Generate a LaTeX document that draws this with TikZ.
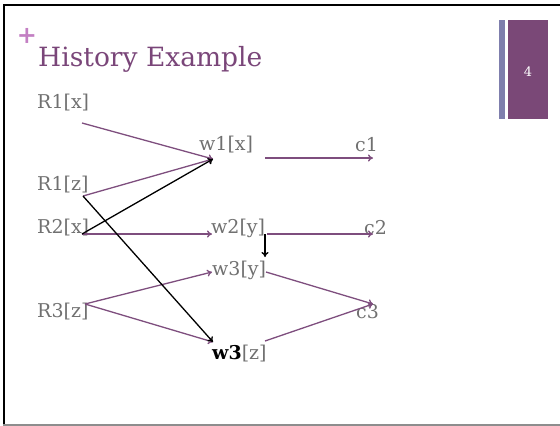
\documentclass[tikz,border=0pt]{standalone}
\usepackage{fontspec}
\setmainfont{DejaVu Serif}
\usetikzlibrary{arrows.meta}
\definecolor{ttl}{HTML}{7A4679}
\definecolor{arr}{HTML}{7E4E7E}
\definecolor{lbl}{HTML}{707070}
\definecolor{plus}{HTML}{C37FC3}
\definecolor{barA}{HTML}{7F7FAD}
\definecolor{barB}{HTML}{7A4877}
\tikzset{
  lab/.style={text=lbl, font=\fontsize{19}{19}\selectfont, inner sep=0pt, anchor=west},
  parr/.style={draw=arr, line width=1.3pt, -{To[length=5pt,width=7pt]}},
  barr/.style={draw=black, line width=1.3pt, -{To[length=5pt,width=7pt]}},
}
\begin{document}
\begin{tikzpicture}[x=1pt,y=-1pt]
\useasboundingbox (0,0) rectangle (560,426);
% frame
\draw[black, line width=2pt] (3.5,426) -- (3.5,4.5) -- (560,4.5);
\draw[lbl!80, line width=2pt] (3,424.5) -- (560,424.5);
% plus and title
\node[text=plus, font=\fontsize{24}{24}\selectfont\bfseries] (plus) at (27,36) {+};
\node[anchor=base west, inner sep=0pt, text=ttl, font=\fontsize{26.5}{26.5}\selectfont] (title) at (38,66) {History Example};
% slide number bars
\fill[barA] (499,20) rectangle (505,119);
\fill[barB] (508,20) rectangle (548,119);
\node[text=white, font=\fontsize{13}{13}\selectfont] (num) at (528,72) {4};
% labels
\node[lab] (R1x) at (37,103) {R1[x]};
\node[lab] (w1x) at (199,145) {w1[x]};
\node[lab] (c1) at (355,145) {c1};
\node[lab] (R1z) at (37,185) {R1[z]};
\node[lab] (R2x) at (37,228) {R2[x]};
\node[lab] (w2y) at (211,228) {w2[y]};
\node[lab] (c2) at (364,228) {c2};
\node[lab] (w3y) at (212,270) {w3[y]};
\node[lab] (R3z) at (37,312) {R3[z]};
\node[lab] (c3) at (356,312) {c3};
\node[lab] (w3z) at (212,354) {\textcolor{black}{\bfseries w3}[z]};
% endpoints
\coordinate (r1x-o) at (82,123);
\coordinate (r1z-o) at (83,196);
\coordinate (r2x-o) at (82,234);
\coordinate (r3z-o) at (85,304);
\coordinate (w1-in) at (213,159);
\coordinate (w1-o) at (265,158);
\coordinate (c1-in) at (373,158);
\coordinate (w2-in) at (212,234);
\coordinate (w2-o) at (267,234);
\coordinate (w2-d) at (265,234);
\coordinate (c2-in) at (373,234);
\coordinate (w3y-in) at (212,272);
\coordinate (w3y-top) at (265,257);
\coordinate (w3y-o) at (266,272);
\coordinate (w3z-in) at (213,342);
\coordinate (w3z-o) at (265,341);
\coordinate (c3-in) at (373,304);
% purple arrows
\draw[parr] (r1x-o) -- (w1-in);
\draw[parr] (r1z-o) -- (w1-in);
\draw[parr] (w1-o) -- (c1-in);
\draw[parr] (r2x-o) -- (w2-in);
\draw[parr] (w2-o) -- (c2-in);
\draw[parr] (r3z-o) -- (w3y-in);
\draw[parr] (r3z-o) -- (w3z-in);
\draw[parr] (w3y-o) -- (c3-in);
\draw[parr] (w3z-o) -- (c3-in);
% black arrows
\draw[barr] (r1z-o) -- (w3z-in);
\draw[barr] (r2x-o) -- (w1-in);
\draw[barr] (w2-d) -- (w3y-top);
\end{tikzpicture}
\end{document}
